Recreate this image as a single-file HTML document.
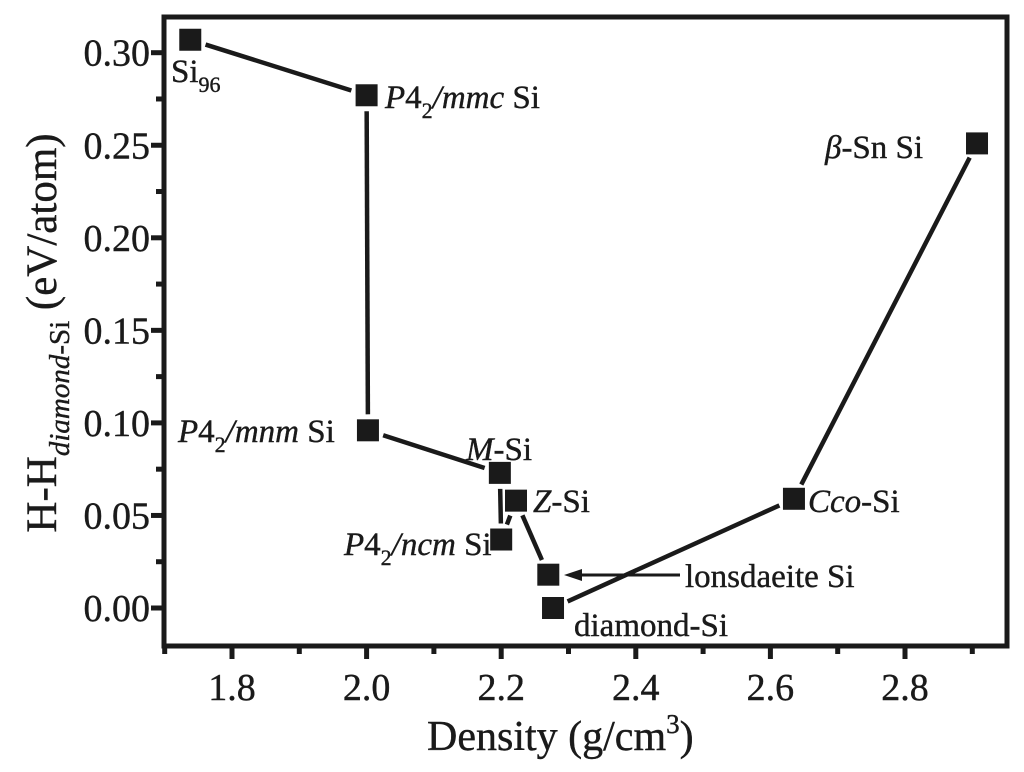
<!DOCTYPE html>
<html><head><meta charset="utf-8"><style>
html,body{margin:0;padding:0;background:#fff;}
svg, svg text{font-family:"Liberation Serif","Times New Roman",serif;}
</style></head><body>
<svg id="chart" width="1024" height="767" viewBox="0 0 1024 767" font-family="Liberation Serif, serif">
<g id="axes"></g>
<g id="lines"></g>
<g id="marks"></g>
<g id="labels" font-size="33" fill="#1a1a1a" stroke="#1a1a1a" stroke-width="0.4">
 <text x="171" y="82">Si<tspan font-size="22" dy="10">96</tspan></text>
 <text x="385" y="108"><tspan font-style="italic">P</tspan>4<tspan font-size="22" dy="10">2</tspan><tspan dy="-10" font-style="italic">/mmc</tspan> Si</text>
 <text x="178" y="442"><tspan font-style="italic">P</tspan>4<tspan font-size="22" dy="10">2</tspan><tspan dy="-10" font-style="italic">/mnm</tspan> Si</text>
 <text x="466" y="460"><tspan font-style="italic">M</tspan>-Si</text>
 <text x="533" y="512"><tspan font-style="italic">Z</tspan>-Si</text>
 <text x="344" y="555"><tspan font-style="italic">P</tspan>4<tspan font-size="22" dy="10">2</tspan><tspan dy="-10" font-style="italic">/ncm</tspan> Si</text>
 <text x="685" y="587">lonsdaeite Si</text>
 <text x="574" y="636">diamond-Si</text>
 <text x="808" y="512"><tspan font-style="italic">Cco</tspan>-Si</text>
 <text x="825" y="158"><tspan font-style="italic">β</tspan>-Sn Si</text>
</g>
<g>
 <line x1="680" y1="575" x2="578" y2="575" stroke="#1a1a1a" stroke-width="3"/>
 <polygon points="564,575 582,569 582,581" fill="#1a1a1a"/>
</g>
<text x="427" y="750" font-size="42" fill="#1a1a1a" stroke="#1a1a1a" stroke-width="0.4">Density (g/cm<tspan font-size="27" dy="-17">3</tspan><tspan dy="17">)</tspan></text>
<text transform="translate(56,333) rotate(-90)" text-anchor="middle" font-size="43" fill="#1a1a1a" stroke="#1a1a1a" stroke-width="0.4">H-H<tspan font-size="29" font-style="italic" dy="13">diamond</tspan><tspan font-size="29" dy="0">-Si</tspan><tspan dy="-13"> (eV/atom)</tspan></text>
</svg>
<script>
const names = ["Si96","P42/mmc","P42/mnm","M-Si","Z-Si","P42/ncm","lonsdaleite","diamond","Cco","beta-Sn"];
const density = [1.738, 2.0, 2.002, 2.198, 2.222, 2.2, 2.27, 2.277, 2.635, 2.907];
const energy = [0.307, 0.277, 0.096, 0.073, 0.058, 0.037, 0.018, 0.0, 0.059, 0.251];
const links = [[0,1],[1,2],[2,3],[3,5],[4,5],[4,6],[7,8],[8,9]];
const xTicks = [1.8, 2.0, 2.2, 2.4, 2.6, 2.8];
const xMinor = [1.7, 1.9, 2.1, 2.3, 2.5, 2.7, 2.9];
const yTicks = [0.00, 0.05, 0.10, 0.15, 0.20, 0.25, 0.30];
const yMinor = [0.025, 0.075, 0.125, 0.175, 0.225, 0.275];

const NS = "http://www.w3.org/2000/svg";
const X = v => 232 + (v - 1.8) * 673;
const Y = v => 608 - v * 1851;
const L = 164, R = 1007, T = 17, B = 646;
function mk(tag, attrs, parent){const e=document.createElementNS(NS,tag);for(const k in attrs)e.setAttribute(k,attrs[k]);parent.appendChild(e);return e;}
const axes = document.getElementById('axes');
const frame = mk('rect',{x:L,y:T,width:R-L,height:B-T,fill:'none',stroke:'#1a1a1a','stroke-width':5},axes);


xTicks.forEach(v=>{
  const t=mk('line',{x1:X(v),x2:X(v),y1:B,y2:B+13,stroke:'#1a1a1a','stroke-width':5},axes);
  
  
  const s=mk('text',{x:X(v),y:B+54,'text-anchor':'middle','font-size':38,fill:'#1a1a1a',stroke:'#1a1a1a','stroke-width':0.4},axes);
  s.textContent=v.toFixed(1);
  
  
});
xMinor.forEach(v=>{
  const t=mk('line',{x1:X(v),x2:X(v),y1:B,y2:B+8,stroke:'#1a1a1a','stroke-width':5},axes);
  
  
});
yTicks.forEach(v=>{
  const t=mk('line',{x1:L-13,x2:L,y1:Y(v),y2:Y(v),stroke:'#1a1a1a','stroke-width':5},axes);
  
  
  const s=mk('text',{x:L-14,y:Y(v)+13,'text-anchor':'end','font-size':38,fill:'#1a1a1a',stroke:'#1a1a1a','stroke-width':0.4},axes);
  s.textContent=v.toFixed(2);
  
  
});
yMinor.forEach(v=>{
  const t=mk('line',{x1:L-8,x2:L,y1:Y(v),y2:Y(v),stroke:'#1a1a1a','stroke-width':5},axes);
  
  
});
const lg=document.getElementById('lines');
links.forEach(([a,b])=>{
  const x1=X(density[a]),y1=Y(energy[a]),x2=X(density[b]),y2=Y(energy[b]);
  const d=Math.hypot(x2-x1,y2-y1),ux=(x2-x1)/d,uy=(y2-y1)/d,g=16;
  const l=mk('line',{x1:x1+ux*g,y1:y1+uy*g,x2:x2-ux*g,y2:y2-uy*g,stroke:'#1a1a1a','stroke-width':4.5},lg);
  
  
});
const mg=document.getElementById('marks');
density.forEach((d,i)=>{
  const r=mk('rect',{x:X(d)-11,y:Y(energy[i])-11,width:22,height:22,fill:'#1a1a1a'},mg);
  
  
});
</script>
</body></html>
